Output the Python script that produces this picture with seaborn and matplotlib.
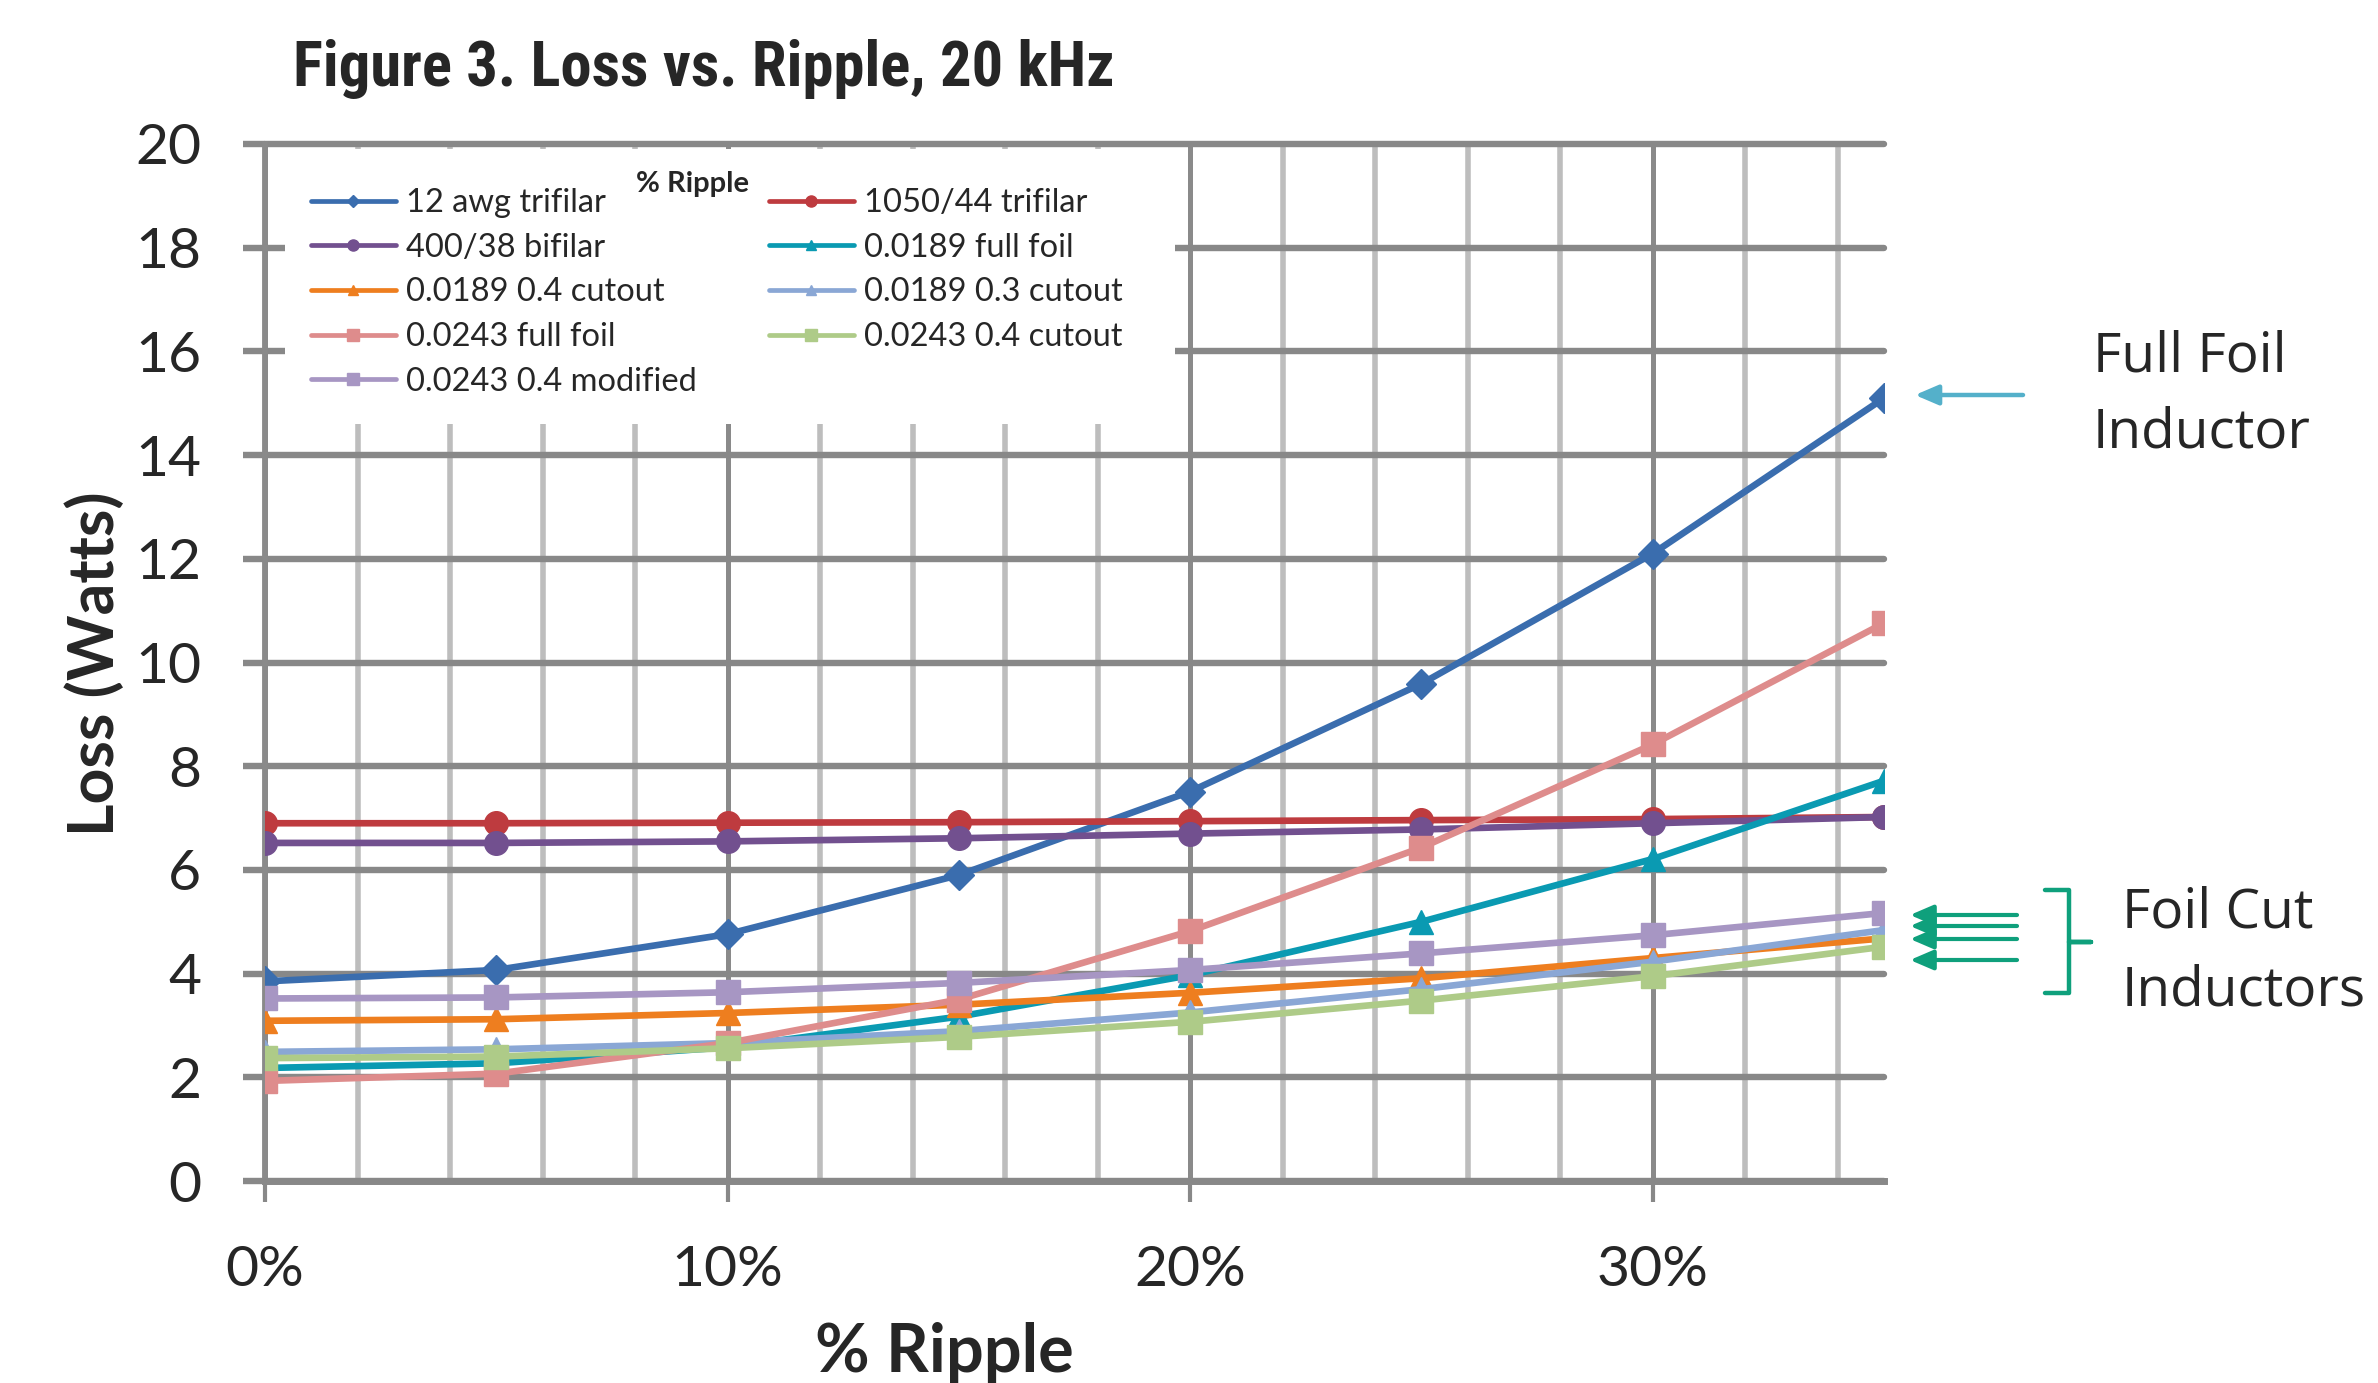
import matplotlib
matplotlib.use("Agg")
import matplotlib.pyplot as plt
from matplotlib import font_manager as fm
from matplotlib.lines import Line2D
from matplotlib.patches import Rectangle
from matplotlib.ticker import MultipleLocator, FuncFormatter
import seaborn as sns
import numpy as np
import pandas as pd

# ---------------- data ----------------
ripple_pct = [0, 5, 10, 15, 20, 25, 30, 35]

series_names = [
    "12 awg trifilar", "1050/44 trifilar", "400/38 bifilar", "0.0189 full foil",
    "0.0189 0.4 cutout", "0.0189 0.3 cutout", "0.0243 full foil",
    "0.0243 0.4 cutout", "0.0243 0.4 modified",
]
awg12_trifilar = [3.85, 4.07, 4.76, 5.90, 7.51, 9.59, 12.10, 15.10]
litz1050_trifilar = [6.90, 6.90, 6.91, 6.92, 6.94, 6.96, 6.98, 7.02]
litz400_bifilar = [6.52, 6.52, 6.55, 6.61, 6.70, 6.78, 6.90, 7.02]
foil0189_full = [2.18, 2.27, 2.58, 3.17, 3.97, 5.00, 6.21, 7.72]
foil0189_04cut = [3.09, 3.12, 3.24, 3.40, 3.63, 3.91, 4.30, 4.68]
foil0189_03cut = [2.49, 2.54, 2.66, 2.89, 3.25, 3.70, 4.23, 4.84]
foil0243_full = [1.93, 2.07, 2.66, 3.50, 4.82, 6.43, 8.42, 10.76]
foil0243_04cut = [2.37, 2.40, 2.56, 2.78, 3.07, 3.48, 3.95, 4.52]
foil0243_04mod = [3.52, 3.54, 3.64, 3.82, 4.07, 4.39, 4.74, 5.17]

series_values = [awg12_trifilar, litz1050_trifilar, litz400_bifilar, foil0189_full,
                 foil0189_04cut, foil0189_03cut, foil0243_full, foil0243_04cut,
                 foil0243_04mod]
series_colors = ["#3A6DAE", "#BE3B3F", "#72508F", "#0A9AB2", "#EE7E1F",
                 "#8AA7D5", "#DE8C8C", "#AECB88", "#A796C3"]
series_markers = ["D", "o", "o", "^", "^", "^", "s", "s", "s"]

y_ticks = list(range(0, 21, 2))
x_ticks = [0, 10, 20, 30]

title_text = "Figure 3. Loss vs. Ripple, 20 kHz"
ylabel_text = "Loss (Watts)"
xlabel_text = "% Ripple"

# ---------------- style ----------------
sns.set_style("white")
avail = {f.name for f in fm.fontManager.ttflist}


def pick(*names):
    for n in names:
        if n in avail:
            return n
    return "DejaVu Sans"


BODY = pick("Lato", "Open Sans", "Noto Sans", "DejaVu Sans")
ANNO = pick("Open Sans", "Lato", "DejaVu Sans")
COND = pick("Roboto Condensed", "Liberation Sans Narrow", "Open Sans Condensed",
            "Noto Sans Condensed", "Roboto", "DejaVu Sans")
plt.rcParams["font.family"] = [BODY, "DejaVu Sans"]

W, H = 2378, 1383
fig = plt.figure(figsize=(W / 100, H / 100), dpi=100)


def fx(x):
    return x / W


def fy(y):
    return 1 - y / H


ax_l, ax_r, ax_t, ax_b = 265, 1884, 144, 1181
ax = fig.add_axes([fx(ax_l), fy(ax_b), (ax_r - ax_l) / W, (ax_b - ax_t) / H])

df = pd.DataFrame({
    "ripple": np.tile(ripple_pct, len(series_names)),
    "loss": np.concatenate(series_values),
    "series": np.repeat(series_names, len(ripple_pct)),
})

for i, name in enumerate(series_names):
    sub = df[df["series"] == name]
    ms = 15 if series_markers[i] == "D" else 17
    sns.lineplot(data=sub, x="ripple", y="loss", ax=ax, color=series_colors[i],
                 marker=series_markers[i], markersize=ms, markeredgewidth=1,
                 markeredgecolor=series_colors[i], lw=4.8, legend=False,
                 zorder=3 + i * 0.1, errorbar=None)

ax.set_xlim(0, 35)
ax.set_ylim(0, 20)
ax.set_xlabel("")
ax.set_ylabel("")
ax.set_yticks(y_ticks)
ax.set_xticks(x_ticks)
ax.xaxis.set_minor_locator(MultipleLocator(2))
ax.xaxis.set_major_formatter(FuncFormatter(lambda v, p: f"{v:.0f}%"))

ax.set_axisbelow(True)
ax.grid(which="major", axis="y", color="#888888", lw=4.6)
ax.grid(which="major", axis="x", color="#8A8A8A", lw=3.6)
ax.grid(which="minor", axis="x", color="#BDBDBD", lw=4.0)
for gl in ax.get_ygridlines():
    gl.set_clip_on(False)

for s in ["top", "right"]:
    ax.spines[s].set_visible(False)
ax.spines["left"].set_color("#8A8A8A")
ax.spines["left"].set_linewidth(4.2)
ax.spines["bottom"].set_color("#888888")
ax.spines["bottom"].set_linewidth(5.0)

ax.tick_params(axis="y", which="major", direction="out", length=16, width=4.6,
               color="#888888", pad=30, labelsize=41, left=True)
ax.tick_params(axis="x", which="major", direction="out", length=15, width=3.0,
               color="#888888", pad=31, labelsize=41, bottom=True)
ax.tick_params(axis="x", which="minor", length=0)

# white legend background inside the plot area
ax.add_patch(Rectangle(((285 - ax_l) / (ax_r - ax_l), (ax_b - 424) / (ax_b - ax_t)),
                       (1175 - 285) / (ax_r - ax_l), (424 - 149) / (ax_b - ax_t),
                       transform=ax.transAxes, facecolor="white", edgecolor="none",
                       zorder=1.5))

# legend (two columns, row-major order like the original)
leg_ms = {"D": 6, "o": 8, "^": 7, "s": 8}
handles = [Line2D([], [], color=series_colors[i], lw=3.4, marker=series_markers[i],
                  markersize=leg_ms[series_markers[i]],
                  markeredgecolor=series_colors[i]) for i in range(len(series_names))]
col1 = [0, 2, 4, 6, 8]
col2 = [1, 3, 5, 7]
leg_kw = dict(frameon=False, fontsize=23.5, handlelength=2.6, handletextpad=0.3,
              labelspacing=0.45, borderpad=0, borderaxespad=0, loc="upper left",
              bbox_transform=fig.transFigure)
leg1 = ax.legend([handles[i] for i in col1], [series_names[i] for i in col1],
                 bbox_to_anchor=(fx(311), fy(188)), **leg_kw)
ax.add_artist(leg1)
leg2 = ax.legend([handles[i] for i in col2], [series_names[i] for i in col2],
                 bbox_to_anchor=(fx(769), fy(188)), **leg_kw)
for lg in (leg1, leg2):
    lg.set_zorder(6)

fig.text(fx(692), fy(192), "% Ripple", fontsize=21, fontweight="bold",
         ha="center", va="baseline", zorder=7)

# axis labels
fig.text(fx(95), fy(664), ylabel_text, rotation=90, fontsize=45, fontweight="bold",
         ha="center", va="center")
fig.text(fx(944), fy(1372), xlabel_text, fontsize=48, fontweight="bold",
         ha="center", va="baseline")

# title (condensed bold), fitted to the original width
ttl = fig.text(fx(293), fy(86), title_text, fontsize=43, fontweight="bold",
               family=[COND, "DejaVu Sans"], ha="left", va="baseline")
r = fig.canvas.get_renderer()
wpx = ttl.get_window_extent(renderer=r).width
ttl.set_fontsize(43 * 822 / wpx)

# annotations on the right
for (xx, yy, s) in [(2093, 371, "Full Foil"), (2093, 448, "Inductor"),
                    (2122, 928, "Foil Cut"), (2122, 1005, "Inductors")]:
    fig.text(fx(xx), fy(yy), s, fontsize=39.5, family=[ANNO, "DejaVu Sans"],
             ha="left", va="baseline")

blue_arrow = "#54B0CA"
green = "#0FA07C"
fig.patches.append(matplotlib.patches.FancyArrowPatch(
    (fx(2023), fy(395)), (fx(1915), fy(395)), transform=fig.transFigure,
    arrowstyle="-|>,head_length=14,head_width=6", color=blue_arrow, lw=3.2,
    mutation_scale=1, shrinkA=0, shrinkB=0))
for yy in [915, 926, 939, 960]:
    fig.patches.append(matplotlib.patches.FancyArrowPatch(
        (fx(2017), fy(yy)), (fx(1910), fy(yy)), transform=fig.transFigure,
        arrowstyle="-|>,head_length=14,head_width=6", color=green, lw=3.0,
        mutation_scale=1, shrinkA=0, shrinkB=0))

# brace
bx = [2045, 2069, 2069, 2091, 2069, 2069, 2045]
by = [890, 890, 942, 942, 942, 993, 993]
fig.add_artist(Line2D([fx(v) for v in bx], [fy(v) for v in by], color=green, lw=3.2,
                      transform=fig.transFigure, solid_joinstyle="round"))

fig.savefig("out.png", dpi=100)
